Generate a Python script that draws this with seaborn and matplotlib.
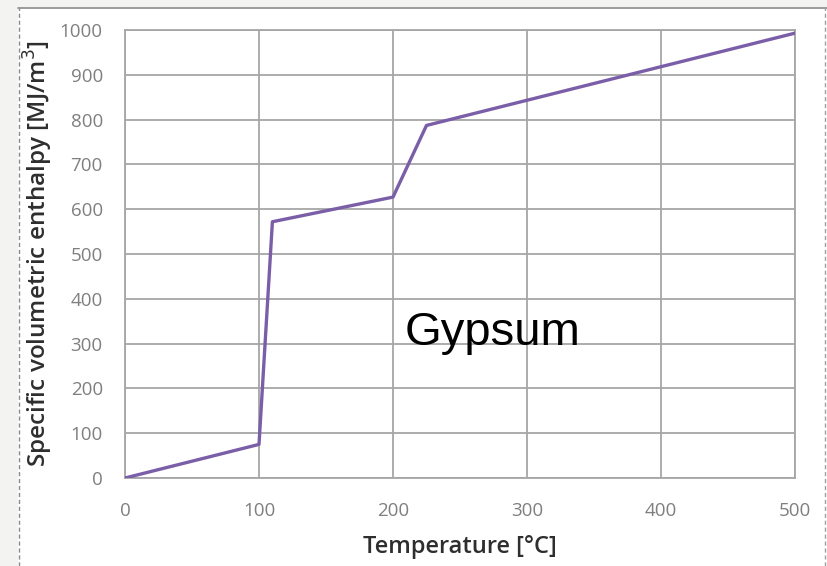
import matplotlib
matplotlib.use("Agg")
import matplotlib.pyplot as plt
import seaborn as sns
import pandas as pd
from matplotlib.patches import Rectangle
from matplotlib.lines import Line2D

temperature = [0, 100, 110, 200, 225, 500]
enthalpy = [0, 75, 572, 627, 787, 993]
x_ticks = [0, 100, 200, 300, 400, 500]
y_ticks = [0, 100, 200, 300, 400, 500, 600, 700, 800, 900, 1000]

sns.set_theme(style="white")
plt.rcParams['font.family'] = ['Open Sans', 'DejaVu Sans']

df = pd.DataFrame({"Temperature": temperature, "Enthalpy": enthalpy})

fig = plt.figure(figsize=(8.27, 5.66), dpi=100, facecolor="white")
ax = fig.add_axes([125/827, 1-478/566, (795-125)/827, (478-30)/566])

# background frame decorations
fig.patches.append(Rectangle((0, 1-7/566), 1, 7/566, transform=fig.transFigure,
                             facecolor="#f3f3f1", edgecolor="none", zorder=-5))
fig.patches.append(Rectangle((0, 0), 18/827, 1, transform=fig.transFigure,
                             facecolor="#f3f3f1", edgecolor="none", zorder=-5))
fig.lines.append(Line2D([18/827, 1], [1-7.5/566, 1-7.5/566], transform=fig.transFigure,
                        color="#8a8a8a", lw=1.2))
fig.lines.append(Line2D([18.5/827, 18.5/827], [0, 1-7.5/566], transform=fig.transFigure,
                        color="#8a8a8a", lw=1.0, ls=(0, (3, 2))))
fig.lines.append(Line2D([825/827, 825/827], [0, 1-7.5/566], transform=fig.transFigure,
                        color="#a0a0a0", lw=1.0, ls=(0, (3, 2))))

sns.lineplot(data=df, x="Temperature", y="Enthalpy", ax=ax, color="#7b5ea8",
             linewidth=2.4, sort=False, zorder=3)

ax.set_xlim(0, 500)
ax.set_ylim(0, 1000)
ax.set_xticks(x_ticks)
ax.set_yticks(y_ticks)
ax.grid(True, color="#a6a6a6", linewidth=1.3)
ax.set_axisbelow(True)
for s in ax.spines.values():
    s.set_visible(True)
    s.set_color("#a6a6a6")
    s.set_linewidth(1.3)
ax.tick_params(axis="both", length=0, labelsize=13.5, labelcolor="#7f7f7f")
ax.tick_params(axis="x", pad=17)
ax.tick_params(axis="y", pad=16)

ax.set_xlabel("Temperature [°C]", fontsize=17, fontweight="semibold", color="#2e2e2e")
ax.set_ylabel("Specific volumetric enthalpy [MJ/m$^3$]", fontsize=17.5, fontweight="semibold",
              color="#2e2e2e")
ax.xaxis.set_label_coords(0.5, (478-535)/448)
ax.yaxis.set_label_coords((55-125)/670, 0.5)

ax.text(274.5, 297, "Gypsum", fontsize=34, family="Liberation Sans", color="black",
        ha="center", va="baseline")

fig.savefig("out.png", dpi=100, facecolor="white")
